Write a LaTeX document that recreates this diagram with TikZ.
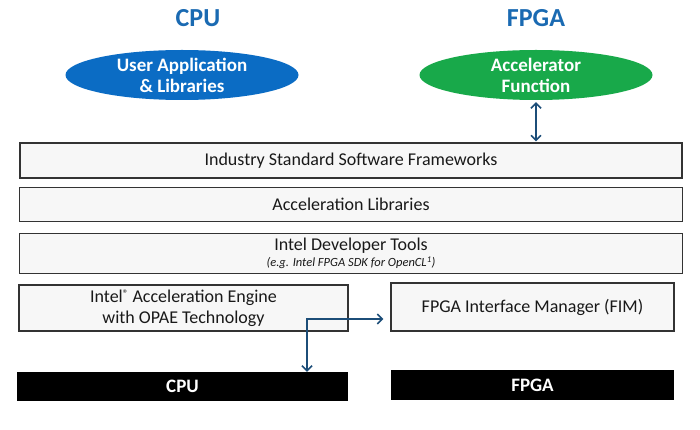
\documentclass[tikz,border=0pt]{standalone}
\usepackage{fontspec}
\setmainfont{Carlito}
\usepackage{xcolor}
\usetikzlibrary{arrows.meta,positioning,shapes.geometric}

\definecolor{cpublue}{HTML}{0B6CC4}
\definecolor{titleblue}{HTML}{1A6AB2}
\definecolor{fpgagreen}{HTML}{18A94A}
\definecolor{linkblue}{HTML}{1C4D78}

\begin{document}
\begin{tikzpicture}[
  x=1pt, y=-1pt,
  node distance=8pt,
  title/.style={font=\fontsize{26}{28}\selectfont\bfseries, text=titleblue},
  blob/.style={ellipse, minimum width=233pt, minimum height=50pt, inner sep=0pt, align=center, text=white, font=\fontsize{19}{21}\selectfont\bfseries},
  layer/.style={draw=black!80, line width=1.1pt, fill=black!3, align=center, inner sep=2pt, text=black!90, font=\fontsize{18}{21}\selectfont},
  hwbar/.style={fill=black, text=white, inner sep=0pt, font=\fontsize{19}{21}\selectfont\bfseries},
  arr/.style={{Straight Barb[length=5pt,width=10pt]}-{Straight Barb[length=5pt,width=10pt]}, line width=1.6pt, draw=linkblue}
]
\useasboundingbox (0,0) rectangle (700,430);

\node[title] (cputitle) at (198,18) {CPU};
\node[title] (fpgatitle) at (536,18) {FPGA};
\node[blob, fill=cpublue] (userapp) at (182,75) {User Application\\\& Libraries};
\node[blob, fill=fpgagreen] (accel) at (536,75) {Accelerator\\Function};

\node[layer, minimum width=662pt, minimum height=35pt] (frameworks) at (351,160.5) {Industry Standard Software Frameworks};
\node[layer, minimum width=663pt, minimum height=34pt, below=8pt of frameworks] (acclibs) {Acceleration Libraries};
\node[layer, minimum width=663pt, minimum height=40pt, below=11pt of acclibs] (devtools) {Intel Developer Tools\\[-5pt]{\fontsize{12.5}{13}\selectfont\itshape (e.g. Intel FPGA SDK for OpenCL\textsuperscript{1})}};
\node[layer, minimum width=329pt, minimum height=46pt] (opae) at (183.5,308) {Intel\raisebox{.6ex}{\fontsize{11}{11}\selectfont\textregistered} Acceleration Engine\\with OPAE Technology};
\node[layer, minimum width=283pt, minimum height=48pt] (fim) at (532.5,307) {FPGA Interface Manager (FIM)};

\node[hwbar, minimum width=331pt, minimum height=29pt] (cpubar) at (182.5,386.5) {CPU};
\node[hwbar, minimum width=283pt, minimum height=30pt] (fpgabar) at (532.5,385) {FPGA};

\coordinate (bend) at (307,319);
\draw[arr] ([yshift=-2pt]accel.south) -- ([yshift=1pt]frameworks.north -| accel);
\draw[arr] (cpubar.north -| bend) |- ([xshift=-7pt]fim.west |- bend);
\end{tikzpicture}
\end{document}
